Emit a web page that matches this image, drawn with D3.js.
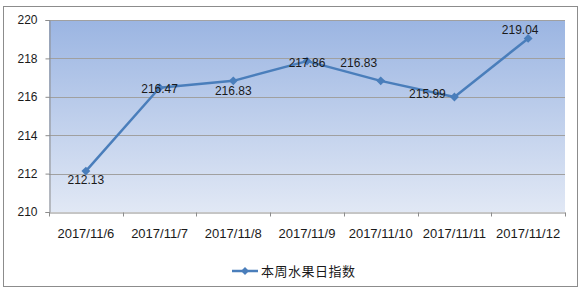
<!DOCTYPE html>
<html>
<head>
<meta charset="utf-8" />
<title></title>
<style>
    body { margin: 0; background: #fff; }
    text { font-family: "Liberation Sans", Arial, sans-serif; fill: #1a1a1a; }
    .legend text { font-family: "Noto Sans CJK SC", sans-serif; }
    .grid line { stroke: #a0a0a0; stroke-width: 1px; }
    .domain, .tick line { stroke: #8c8c8c; stroke-width: 1px; }
</style>
</head>
<body>
<div id="container"></div>
<script src="https://cdn.jsdelivr.net/npm/d3@7"></script>
<script>
var categories = ["2017/11/6", "2017/11/7", "2017/11/8", "2017/11/9", "2017/11/10", "2017/11/11", "2017/11/12"];
var values = [212.13, 216.47, 216.83, 217.86, 216.83, 215.99, 219.04];
var yTicks = [210, 212, 214, 216, 218, 220];
var seriesName = "本周水果日指数";
// offsets of the value labels from their point (dx, dy)
var labelDx = [0, 0, 0, 0, -22, -27, -8];
var labelDy = [9, 1, 10, 2, -18, -3, -9];

var width = 583, height = 290,
    margin = { left: 49, top: 20, right: 18, bottom: 78 },
    g_width = width - margin.left - margin.right,
    g_height = height - margin.top - margin.bottom;

var svg = d3.select("#container").append("svg")
    .attr("width", width)
    .attr("height", height);

// outer frame
svg.append("rect")
    .attr("x", 3.5).attr("y", 6.5)
    .attr("width", 574).attr("height", 280)
    .attr("fill", "#fff")
    .attr("stroke", "#8c8c8c");

var defs = svg.append("defs");
var grad = defs.append("linearGradient")
    .attr("id", "bg").attr("x1", 0).attr("y1", 0).attr("x2", 0).attr("y2", 1);
grad.append("stop").attr("offset", "0%").attr("stop-color", "#9bb5e2");
grad.append("stop").attr("offset", "100%").attr("stop-color", "#e1e8f5");

var g = svg.append("g")
    .attr("transform", "translate(" + margin.left + "," + margin.top + ")");

var scale_x = d3.scaleBand().domain(categories).range([0, g_width]);
var scale_y = d3.scaleLinear().domain([210, 220]).range([g_height, 0]);

g.append("rect")
    .attr("width", g_width).attr("height", g_height)
    .attr("fill", "url(#bg)");

// horizontal grid
g.append("g").attr("class", "grid")
    .selectAll("line")
    .data(yTicks.slice(1))
    .enter().append("line")
    .attr("x1", 0).attr("x2", g_width)
    .attr("y1", d => Math.round(scale_y(d)) + 0.5)
    .attr("y2", d => Math.round(scale_y(d)) + 0.5);

// y axis
var y_axis = d3.axisLeft(scale_y).tickValues(yTicks).tickSize(4).tickPadding(8);
var yg = g.append("g").attr("transform", "translate(0.5,0)").call(y_axis);
yg.selectAll("text").attr("font-size", "12px");

// x axis with ticks at category boundaries
var x_axis = d3.axisBottom(scale_x).tickSize(0).tickPadding(16);
var xg = g.append("g").attr("transform", "translate(0," + (g_height + 0.5) + ")").call(x_axis);
xg.selectAll("text").attr("font-size", "13px");
xg.selectAll(".bound")
    .data(d3.range(categories.length + 1))
    .enter().append("line")
    .attr("class", "bound")
    .attr("x1", i => Math.round(i * scale_x.step()) + 0.5)
    .attr("x2", i => Math.round(i * scale_x.step()) + 0.5)
    .attr("y1", 0).attr("y2", 4)
    .attr("stroke", "#8c8c8c");

var cx = (d, i) => scale_x(categories[i]) + scale_x.bandwidth() / 2;

var line_generator = d3.line()
    .x((d, i) => cx(d, i))
    .y(d => scale_y(d));

g.append("path")
    .attr("d", line_generator(values))
    .attr("fill", "none")
    .attr("stroke", "#4a7ebb")
    .attr("stroke-width", 2.5)
    .attr("stroke-linejoin", "round");

g.selectAll(".pt")
    .data(values)
    .enter().append("path")
    .attr("class", "pt")
    .attr("d", d3.symbol(d3.symbolDiamond2, 50)())
    .attr("transform", (d, i) => "translate(" + cx(d, i) + "," + scale_y(d) + ")")
    .attr("fill", "#4a7ebb");

g.selectAll(".lbl")
    .data(values)
    .enter().append("text")
    .attr("class", "lbl")
    .attr("x", (d, i) => cx(d, i) + labelDx[i])
    .attr("y", (d, i) => scale_y(d) + labelDy[i])
    .attr("dy", "0.35em")
    .attr("text-anchor", "middle")
    .attr("font-size", "12px")
    .text(d => d.toFixed(2));

// legend
var lg = svg.append("g").attr("class", "legend").attr("transform", "translate(232,271)");
lg.append("line").attr("x1", 0).attr("x2", 26).attr("y1", 0).attr("y2", 0)
    .attr("stroke", "#4a7ebb").attr("stroke-width", 2.5);
lg.append("path").attr("d", d3.symbol(d3.symbolDiamond2, 40)())
    .attr("transform", "translate(13,0)").attr("fill", "#4a7ebb");
lg.append("text").attr("x", 29).attr("dy", "0.36em")
    .attr("font-size", "13px").attr("letter-spacing", "0.5px")
    .text(seriesName);
</script>
</body>
</html>
